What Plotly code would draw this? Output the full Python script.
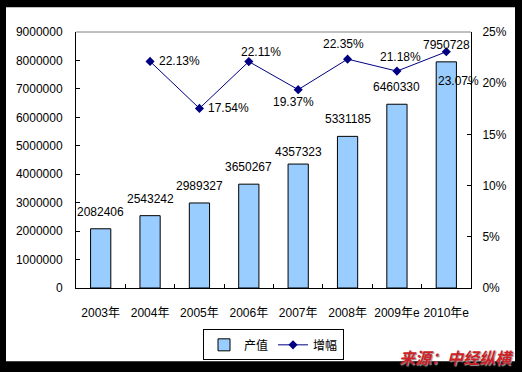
import plotly.graph_objects as go

# ---- data ----
years = ["2003年", "2004年", "2005年", "2006年", "2007年", "2008年", "2009年e", "2010年e"]
output_value = [2082406, 2543242, 2989327, 3650267, 4357323, 5331185, 6460330, 7950728]
growth = [None, 0.2213, 0.1754, 0.2211, 0.1937, 0.2235, 0.2118, 0.2307]
left_ticks = [0, 1000000, 2000000, 3000000, 4000000, 5000000, 6000000, 7000000, 8000000, 9000000]
right_ticks = [0, 0.05, 0.10, 0.15, 0.20, 0.25]

W, H = 522, 372
ML, MR, MT, MB = 76, 51, 32, 81
PW, PH = W - ML - MR, H - MT - MB

def px(x):
    return (x - ML) / PW

def py(y):
    return (H - MB - y) / PH

FONT = "Liberation Sans, Arial, Noto Sans CJK SC, sans-serif"

fig = go.Figure()
fig.add_trace(go.Bar(
    x=years, y=output_value, name="产值", width=0.41,
    marker=dict(color="#99CCFF", line=dict(color="black", width=1)),
    yaxis="y",
))
fig.add_trace(go.Scatter(
    x=years, y=growth, name="增幅", mode="lines+markers",
    line=dict(color="#000080", width=1),
    marker=dict(symbol="diamond", size=7, color="#000080"),
    yaxis="y2",
))

# bar value labels
ann = []
for i, (c, v) in enumerate(zip(years, output_value)):
    ys = 12 if i == 4 else 17
    ann.append(dict(x=c, y=v, xref="x", yref="y", text=str(v), showarrow=False,
                    yshift=ys, yanchor="middle", xanchor="center",
                    font=dict(size=12, color="black", family=FONT)))

# growth labels (x shift, y shift in px, anchor)
offsets = {1: (7, 0, "left"), 2: (7, 0, "left"), 3: (12, 10, "center"), 4: (-5, -12, "center"),
           5: (-4, 15, "center"), 6: (4, 14, "center"), 7: (12, -29, "center")}
for i, (c, g) in enumerate(zip(years, growth)):
    if g is None:
        continue
    dx, dy, xa = offsets[i]
    ann.append(dict(x=c, y=g, xref="x", yref="y2", text=f"{g*100:.2f}%", showarrow=False,
                    xshift=dx, yshift=dy, xanchor=xa, yanchor="middle",
                    font=dict(size=12, color="black", family=FONT)))

# source text
ann.append(dict(x=px(516), y=py(361), xref="paper", yref="paper", text="<b>来源：中经纵横</b>",
                showarrow=False, xanchor="right", yanchor="middle",
                font=dict(size=16, color="#CC2228", family="Noto Sans CJK SC", style="italic",
                          shadow="1px 1px 1px #999999")))

shapes = [
    # white card on black frame
    dict(type="rect", xref="paper", yref="paper", x0=px(6), x1=px(515), y0=py(365), y1=py(7),
         fillcolor="white", line=dict(width=0), layer="below"),
    # top border of plot area
    dict(type="line", xref="paper", yref="paper", x0=0, x1=1, y0=1, y1=1,
         line=dict(color="#808080", width=1)),
]

fig.update_layout(
    width=W, height=H, autosize=False,
    margin=dict(l=ML, r=MR, t=MT, b=MB, pad=0),
    paper_bgcolor="black", plot_bgcolor="white",
    font=dict(family=FONT, size=12, color="black"),
    showlegend=True,
    legend=dict(orientation="h", x=0.5, xanchor="center", y=py(348.5), yanchor="middle",
                bordercolor="black", borderwidth=1, bgcolor="white",
                font=dict(size=12, family=FONT), itemwidth=30, tracegroupgap=0),
    xaxis=dict(type="category", categoryorder="array", categoryarray=years, range=[-0.5, 7.5],
               showline=True, linecolor="black", linewidth=1, ticks="inside", ticklen=4,
               tickcolor="black", tickson="boundaries", showgrid=False, ticklabelstandoff=14,
               tickangle=0, tickfont=dict(size=12)),
    yaxis=dict(range=[0, 9000000], tickvals=left_ticks, tickformat="d", showline=True,
               linecolor="black", linewidth=1, ticks="inside", ticklen=4, tickcolor="black",
               showgrid=False, zeroline=False, ticklabelstandoff=10, tickfont=dict(size=12)),
    yaxis2=dict(range=[0, 0.25], tickvals=right_ticks, tickformat=".0%", overlaying="y",
                side="right", showline=True, linecolor="black", linewidth=1, ticks="inside",
                ticklen=4, tickcolor="black", showgrid=False, zeroline=False,
                ticklabelstandoff=8, tickfont=dict(size=12)),
    annotations=ann,
    shapes=shapes,
    bargap=0.59,
)

fig.write_html("out.html", config={"displayModeBar": False},
               post_script="document.body.style.margin='0';document.body.style.padding='0';")
